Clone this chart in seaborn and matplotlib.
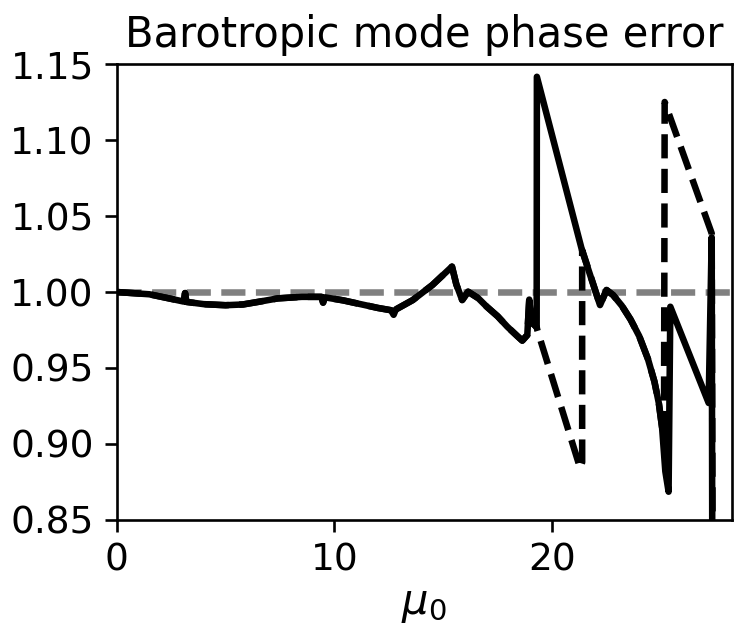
import numpy as np
import pandas as pd
import matplotlib
matplotlib.use("Agg")
import matplotlib.pyplot as plt
import seaborn as sns

# Shared part of both branches (x < ~19.3)
mu_common = [0.0, 1.5, 2.5, 3.08, 3.14, 3.2, 4.0, 5.0, 5.8, 6.5, 7.4, 8.5, 9.4, 9.48,
             9.56, 10.4, 11.2, 12.0, 12.6, 12.72, 12.82, 13.6, 14.5, 15.4, 15.6, 15.87,
             16.14, 16.6, 17.0, 17.5, 17.94, 18.4, 18.63, 18.86, 18.95, 19.05, 19.29]
phase_common = [1.000, 0.9985, 0.9955, 0.9937, 0.9993, 0.9935, 0.9920, 0.9913, 0.9918,
                0.9935, 0.9958, 0.9968, 0.9968, 0.9930, 0.9965, 0.9945, 0.9920, 0.9895,
                0.9880, 0.9850, 0.9885, 0.9947, 1.0046, 1.0167, 1.005, 0.9947, 1.0002,
                0.9960, 0.9903, 0.9840, 0.9772, 0.971, 0.968, 0.9717, 0.995, 0.980, 0.977]

# Solid branch continuation
mu_solid_tail = [19.3, 21.37, 22.2, 22.5, 22.8, 23.2, 23.6, 24.0, 24.4, 24.7, 24.9,
                 25.05, 25.2, 25.35, 25.43, 27.19, 27.33, 27.36]
phase_solid_tail = [1.1416, 1.0276, 0.9914, 1.0013, 0.998, 0.991, 0.982, 0.971, 0.956,
                    0.941, 0.927, 0.911, 0.882, 0.8686, 0.9903, 0.927, 1.036, 0.80]

# Dashed branch continuation
mu_dashed_tail = [19.32, 21.29, 21.38, 21.38, 22.2, 22.5, 22.8, 23.2, 23.6, 24.0, 24.4,
                  24.7, 24.9, 25.05, 25.14, 25.17, 27.33, 27.38]
phase_dashed_tail = [0.975, 0.884, 0.888, 1.0276, 0.9914, 1.0013, 0.998, 0.991, 0.982,
                     0.971, 0.956, 0.941, 0.927, 0.911, 0.905, 1.125, 1.0386, 0.80]

reference_level = 1.0
x_max = 28.25

sns.set_theme(style="ticks")
plt.rcParams["font.family"] = ["DejaVu Sans"]

solid = pd.DataFrame({"mu0": mu_common + mu_solid_tail,
                      "phase": phase_common + phase_solid_tail})
dashed = pd.DataFrame({"mu0": mu_common + mu_dashed_tail,
                       "phase": phase_common + phase_dashed_tail})
ref = pd.DataFrame({"mu0": [0.0, x_max], "phase": [reference_level, reference_level]})

fig = plt.figure(figsize=(7.34, 6.37), dpi=100)
ax = fig.add_axes([0.159, 0.1837, 0.8379, 0.7158])

sns.lineplot(data=ref, x="mu0", y="phase", ax=ax, color="gray", linewidth=4.7,
             linestyle="--", sort=False, estimator=None)
sns.lineplot(data=dashed, x="mu0", y="phase", ax=ax, color="black", linewidth=4.7,
             linestyle="--", sort=False, estimator=None)
sns.lineplot(data=solid, x="mu0", y="phase", ax=ax, color="black", linewidth=4.7,
             sort=False, estimator=None)

ax.set_xlim(0, x_max)
ax.set_ylim(0.85, 1.15)
ax.set_xticks([0, 10, 20])
ax.set_yticks([0.85, 0.90, 0.95, 1.00, 1.05, 1.10, 1.15])
ax.set_yticklabels(["0.85", "0.90", "0.95", "1.00", "1.05", "1.10", "1.15"])
ax.tick_params(labelsize=27, length=8.5, width=1.9, pad=8, color="black",
               labelcolor="black")
for s in ax.spines.values():
    s.set_linewidth(1.9)
    s.set_color("black")
ax.set_xlabel(r"$\mu_0$", fontsize=30, color="black", labelpad=3)
ax.set_ylabel("")
ax.set_title("Barotropic mode phase error", fontsize=30, color="black", pad=12)

fig.savefig("out.png", dpi=100)
